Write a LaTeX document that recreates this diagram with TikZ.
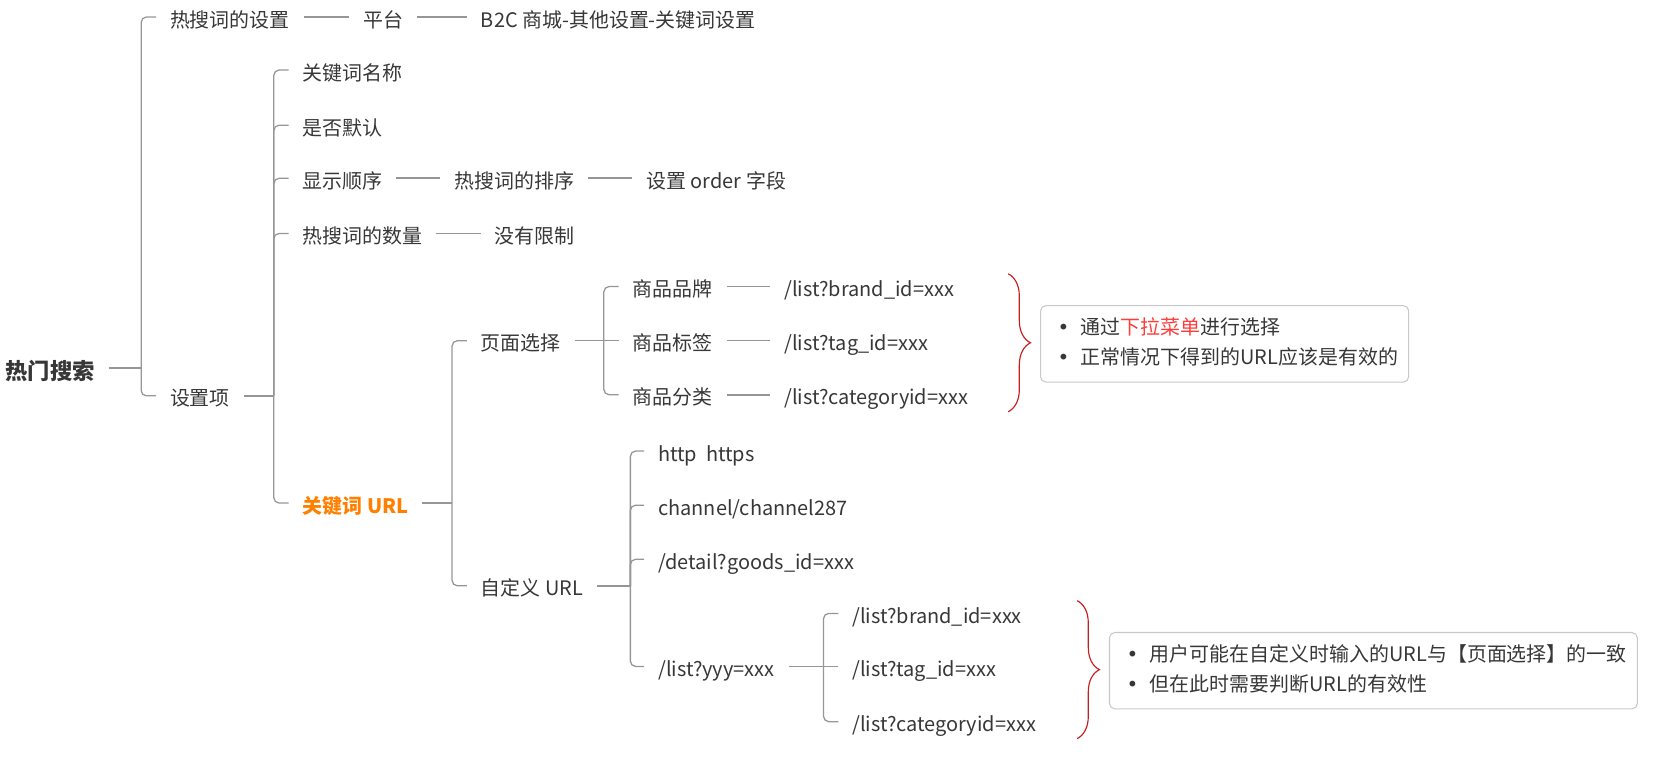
\documentclass[tikz,border=0pt]{standalone}
\usepackage{fontspec}
\setmainfont{Noto Sans CJK SC}
\newfontfamily\dotfont{DejaVu Sans}
\usetikzlibrary{decorations.pathreplacing}
\definecolor{textgray}{RGB}{55, 55, 55}
\definecolor{linegray}{RGB}{150, 150, 150}
\definecolor{boxgray}{RGB}{200, 200, 200}
\definecolor{keyorange}{RGB}{255, 128, 0}
\definecolor{menured}{RGB}{255, 60, 60}
\definecolor{bracered}{RGB}{200, 30, 30}
\newcommand\mapfont{\fontsize{18.8}{28}\selectfont}
\newcommand\bul{\makebox[20pt][l]{\hspace{-2pt}{\dotfont •}}}

\begin{document}
\begin{tikzpicture}[x=1pt, y=-1pt,
    every node/.style={anchor=west, inner xsep=13pt, inner ysep=0pt, text height=19pt, text depth=0pt, text=textgray, font=\mapfont},
    topic/.style={font=\fontsize{21}{24}\selectfont\bfseries, text height=21pt},
    keynode/.style={font=\mapfont\bfseries, text=keyorange},
    branch/.style={draw=linegray, line width=1.5pt},
    fork/.style={draw=linegray, line width=1.2pt, rounded corners=5pt},
    notebox/.style={draw=boxgray, line width=1pt, rounded corners=5pt, inner xsep=0pt, inner ysep=8pt, text height=, text depth=},
    curly/.style={draw=bracered, line width=1.1pt, decorate, decoration={brace, amplitude=21pt}}
]
\useasboundingbox (0,0) rectangle (1568,722);

\node[topic] (root) at (-8,347) {热门搜索};

\node (s1) at (147,16) {热搜词的设置};
\node (s1a) at (329,16) {平台};
\node (s1b) at (440,16) {B2C 商城-其他设置-关键词设置};

\node (s2) at (147,373) {设置项};
\node (k1) at (272,66) {关键词名称};
\node (k2) at (272,118) {是否默认};
\node (k3) at (272,168) {显示顺序};
\node (k3a) at (415,168) {热搜词的排序};
\node (k3b) at (596,168) {设置 order 字段};
\node (k4) at (272,220) {热搜词的数量};
\node (k4a) at (453,220) {没有限制};
\node[keynode] (k5) at (272,474) {关键词 URL};

\node (p) at (440,321) {页面选择};
\node (p1) at (583,270) {商品品牌};
\node (p1a) at (726,270) {/list?brand\_id=xxx};
\node (p2) at (583,321) {商品标签};
\node (p2a) at (726,321) {/list?tag\_id=xxx};
\node (p3) at (583,372) {商品分类};
\node (p3a) at (726,372) {/list?categoryid=xxx};

\node (c) at (440,552) {自定义 URL};
\node (c1) at (607,425) {http~~https};
\node (c2) at (607,476) {channel/channel287};
\node (c3) at (607,527) {/detail?goods\_id=xxx};
\node (c4) at (607,628) {/list?yyy=xxx};
\node (c41) at (790,578) {/list?brand\_id=xxx};
\node (c42) at (790,628) {/list?tag\_id=xxx};
\node (c43) at (790,680) {/list?categoryid=xxx};

\node[notebox] (noteA) at (980,324) {\begin{tabular}{@{\hspace{18pt}}l@{\hspace{10pt}}}
\bul 通过\textcolor{menured}{下拉菜单}进行选择\\
\bul 正常情况下得到的URL应该是有效的
\end{tabular}};
\node[notebox] (noteB) at (1045,632) {\begin{tabular}{@{\hspace{18pt}}l@{\hspace{10pt}}}
\bul 用户可能在自定义时输入的URL与【页面选择】的一致\\
\bul 但在此时需要判断URL的有效性
\end{tabular}};

% forks
\coordinate (rootfork) at (133,347);
\coordinate (s2fork) at (258,373);
\coordinate (k5fork) at (426,474);
\coordinate (pfork) at (569,321);
\coordinate (cfork) at (594,552);
\coordinate (c4fork) at (776,628);

\draw[branch] (root.east) -- (rootfork);
\draw[fork] (rootfork) |- (s1.west);
\draw[fork] (rootfork) |- (s2.west);

\draw[branch] (s1.east) -- (s1a.west);
\draw[branch] (s1a.east) -- (s1b.west);

\draw[branch] (s2.east) -- (s2fork);
\foreach \k in {k1,k2,k3,k4,k5}
  \draw[fork] (s2fork) |- (\k.west);
\draw[branch] (k3.east) -- (k3a.west);
\draw[branch] (k3a.east) -- (k3b.west);
\draw[branch] (k4.east) -- (k4a.west);

\draw[branch] (k5.east) -- (k5fork);
\draw[fork] (k5fork) |- (p.west);
\draw[fork] (k5fork) |- (c.west);

\draw[branch] (p.east) -- (pfork);
\draw[fork] (pfork) |- (p1.west);
\draw[fork] (pfork) -- (p2.west);
\draw[fork] (pfork) |- (p3.west);
\draw[branch] (p1.east) -- (p1a.west);
\draw[branch] (p2.east) -- (p2a.west);
\draw[branch] (p3.east) -- (p3a.west);

\draw[branch] (c.east) -- (cfork);
\foreach \k in {c1,c2,c3,c4}
  \draw[fork] (cfork) |- (\k.west);

\draw[branch] (c4.east) -- (c4fork);
\draw[fork] (c4fork) |- (c41.west);
\draw[fork] (c4fork) -- (c42.west);
\draw[fork] (c4fork) |- (c43.west);

% braces
\coordinate (b1top) at (950,258);
\coordinate (b1bot) at (950,388);
\coordinate (b2top) at (1015,566);
\coordinate (b2bot) at (1015,696);
\draw[curly] (b1top) -- (b1bot);
\draw[curly] (b2top) -- (b2bot);
\end{tikzpicture}
\end{document}
